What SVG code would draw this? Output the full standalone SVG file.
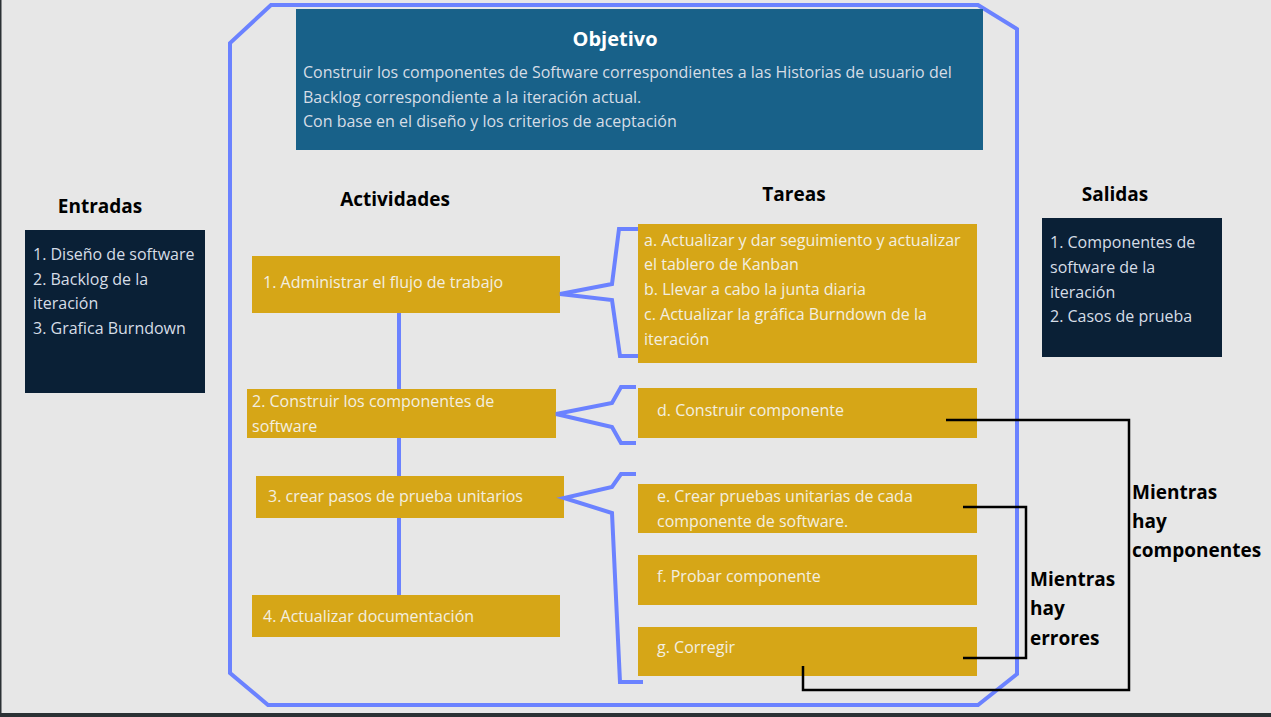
<svg xmlns="http://www.w3.org/2000/svg" width="1271" height="717" viewBox="0 0 1271 717">
<style>
.t{font-family:"Open Sans","Noto Sans",sans-serif;font-size:16px;fill:#f3efe0}
.tl{font-family:"Open Sans","Noto Sans",sans-serif;font-size:16px;fill:#d6dde6}
.h{font-family:"Open Sans","Noto Sans",sans-serif;font-size:19px;font-weight:bold;fill:#000}
.gold{fill:#d6a617}
.navy{fill:#0a2036}
.blue{fill:none;stroke:#6b82ff;stroke-width:4;stroke-linejoin:miter}
.blk{fill:none;stroke:#000;stroke-width:2.5}
</style>
<rect x="0" y="0" width="1271" height="717" fill="#e7e7e7"/>
<rect x="0" y="0" width="1.5" height="717" fill="#2b3134"/>
<rect x="0" y="713" width="1271" height="4" fill="#2b3134"/>

<g id="frame">
<polygon class="blue" points="271,5 978,5 1017,29 1017,674 978,705 268,705 230,673 230,43"/>
</g>

<g id="objetivo">
<rect x="296" y="9" width="687" height="141" fill="#186189"/>
<text x="615" y="46" text-anchor="middle" class="h" style="fill:#fff;font-size:20px">Objetivo</text>
<text class="tl" x="303" y="78">Construir los componentes de Software correspondientes a las Historias de usuario del</text>
<text class="tl" x="303" y="103">Backlog correspondiente a la iteración actual.</text>
<text class="tl" x="303" y="127">Con base en el diseño y los criterios de aceptación</text>
</g>

<g id="headers">
<text class="h" x="100" y="213" text-anchor="middle">Entradas</text>
<text class="h" x="395" y="206" text-anchor="middle">Actividades</text>
<text class="h" x="794" y="201" text-anchor="middle">Tareas</text>
<text class="h" x="1115" y="201" text-anchor="middle">Salidas</text>
</g>

<g id="entradas">
<rect class="navy" x="25" y="230" width="180" height="163"/>
<text class="tl" x="33" y="260">1. Diseño de software</text>
<text class="tl" x="33" y="285">2. Backlog de la</text>
<text class="tl" x="33" y="309">iteración</text>
<text class="tl" x="33" y="334">3. Grafica Burndown</text>
</g>

<g id="salidas">
<rect class="navy" x="1042" y="218" width="180" height="139"/>
<text class="tl" x="1050" y="248">1. Componentes de</text>
<text class="tl" x="1050" y="273">software de la</text>
<text class="tl" x="1050" y="298">iteración</text>
<text class="tl" x="1050" y="322">2. Casos de prueba</text>
</g>

<g id="act1">
<rect class="gold" x="252" y="256" width="308" height="57"/>
<text class="t" x="263" y="288">1. Administrar el flujo de trabajo</text>
</g>
<g id="act2">
<rect class="gold" x="247" y="389" width="309" height="49"/>
<text class="t" x="252" y="407">2. Construir los componentes de</text>
<text class="t" x="252" y="432">software</text>
</g>
<g id="act3">
<rect class="gold" x="256" y="476" width="308" height="42"/>
<text class="t" x="268" y="502">3. crear pasos de prueba unitarios</text>
</g>
<g id="act4">
<rect class="gold" x="252" y="595" width="308" height="42"/>
<text class="t" x="263" y="622">4. Actualizar documentación</text>
</g>

<g id="tareaA">
<rect class="gold" x="638" y="224" width="339" height="139"/>
<text class="t" x="644" y="246">a. Actualizar y dar seguimiento y actualizar</text>
<text class="t" x="644" y="270">el tablero de Kanban</text>
<text class="t" x="644" y="295">b. Llevar a cabo la junta diaria</text>
<text class="t" x="644" y="320">c. Actualizar la gráfica Burndown de la</text>
<text class="t" x="644" y="345">iteración</text>
</g>
<g id="tareaD">
<rect class="gold" x="638" y="388" width="339" height="50"/>
<text class="t" x="657" y="416">d. Construir componente</text>
</g>
<g id="tareaE">
<rect class="gold" x="638" y="484" width="339" height="49"/>
<text class="t" x="657" y="502">e. Crear pruebas unitarias de cada</text>
<text class="t" x="657" y="527">componente de software.</text>
</g>
<g id="tareaF">
<rect class="gold" x="638" y="555" width="339" height="50"/>
<text class="t" x="657" y="582">f. Probar componente</text>
</g>
<g id="tareaG">
<rect class="gold" x="638" y="627" width="339" height="49"/>
<text class="t" x="657" y="653">g. Corregir</text>
</g>

<g id="connectors">
<line class="blue" x1="399" y1="313" x2="399" y2="389"/>
<line class="blue" x1="399" y1="438" x2="399" y2="476"/>
<line class="blue" x1="399" y1="518" x2="399" y2="595"/>
<polyline class="blue" points="638,229 619,229 612,284 560,294 612,300 620,356 638,356"/>
<polyline class="blue" points="636,387 621,387 612,403 556,414 612,427 621,443 636,443"/>
<polyline class="blue" points="636,474 621,474 612,487 564,498 612,513 620,682 643,682"/>
<path class="blk" d="M946,420 H1129 V690 H803 V666"/>
<path class="blk" d="M963,507 H1026 V658 H963"/>
</g>

<g id="labels">
<text class="h" x="1132" y="499">Mientras</text>
<text class="h" x="1132" y="528">hay</text>
<text class="h" x="1132" y="557">componentes</text>
<text class="h" x="1030" y="586">Mientras</text>
<text class="h" x="1030" y="615">hay</text>
<text class="h" x="1030" y="645">errores</text>
</g>
</svg>
